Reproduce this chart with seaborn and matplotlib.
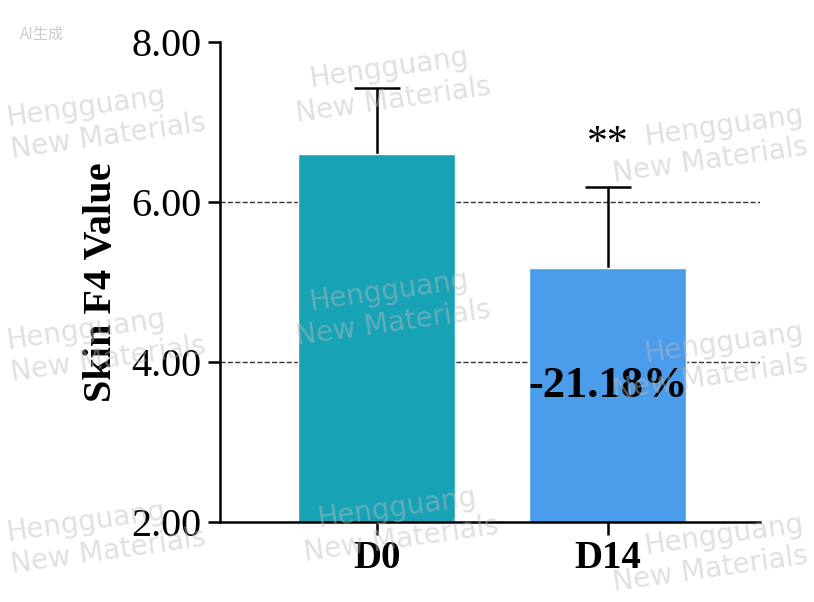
import matplotlib
matplotlib.use("Agg")
import matplotlib.pyplot as plt
import seaborn as sns
import pandas as pd

categories = ["D0", "D14"]
means = [6.60, 5.18]
sd = [0.83, 1.01]
colors = ["#17a2b6", "#4b9ceb"]
yticks = [2.00, 4.00, 6.00, 8.00]

sns.set_style("white")
plt.rcParams['font.family'] = ['Liberation Serif', 'DejaVu Serif']
plt.rcParams['text.color'] = 'black'
plt.rcParams['axes.labelcolor'] = 'black'
plt.rcParams['xtick.color'] = 'black'
plt.rcParams['ytick.color'] = 'black'

fig = plt.figure(figsize=(8.14, 6.02), dpi=100)
ax = fig.add_axes([0.270, 0.133, 0.664, 0.797])
df = pd.DataFrame({"cat": categories, "val": means})
sns.barplot(data=df, x="cat", y="val", hue="cat", palette=colors, width=0.68,
            saturation=1, legend=False, ax=ax, zorder=2)
for i, (m, s) in enumerate(zip(means, sd)):
    ax.vlines(i, m, m + s, color="black", lw=1.8, zorder=1)
    ax.hlines(m + s, i - 0.1, i + 0.1, color="black", lw=1.8, zorder=1)
for y in [4, 6]:
    ax.axhline(y, color="#333333", ls="--", lw=1, zorder=0)
ax.set_ylim(2, 8)
ax.set_xlim(-0.68, 1.66)
ax.set_yticks(yticks)
ax.set_yticklabels([f"{v:.2f}" for v in yticks], fontsize=29)
ax.set_xticks([0, 1])
ax.set_xticklabels(categories, fontsize=28, fontweight="bold")
ax.set_xlabel("")
ax.set_ylabel("Skin F4 Value", fontsize=29, fontweight="bold", labelpad=8)
for sp in ["top", "right"]:
    ax.spines[sp].set_visible(False)
for sp in ["left", "bottom"]:
    ax.spines[sp].set_linewidth(1.8)
    ax.spines[sp].set_color("black")
ax.tick_params(axis="both", length=9, width=1.8, direction="out", bottom=True, left=True, pad=4)
ax.text(1, means[1] + sd[1] + 0.3, "**", ha="center", va="bottom", fontsize=30)
ax.text(1, 3.7, "-21.18%", ha="center", va="center", fontsize=32, fontweight="bold")

wm = dict(color="#bbbbbb", alpha=0.45, fontsize=20, family="DejaVu Sans", rotation=8,
          va="center", transform=fig.transFigure, zorder=10)
for (x, y, ha) in [(0.48, 0.86, "center"), (0.005, 0.80, "left"), (0.995, 0.76, "right"),
                   (0.48, 0.49, "center"), (0.005, 0.43, "left"), (0.995, 0.40, "right"),
                   (0.49, 0.13, "center"), (0.005, 0.11, "left"), (0.995, 0.08, "right")]:
    fig.text(x, y, "Hengguang\nNew Materials", ha=ha, **wm)
fig.text(0.025, 0.935, "AI生成", fontsize=11, color="#cccccc", family=["Noto Sans CJK SC", "DejaVu Sans"])
fig.savefig("out.png", dpi=100)
